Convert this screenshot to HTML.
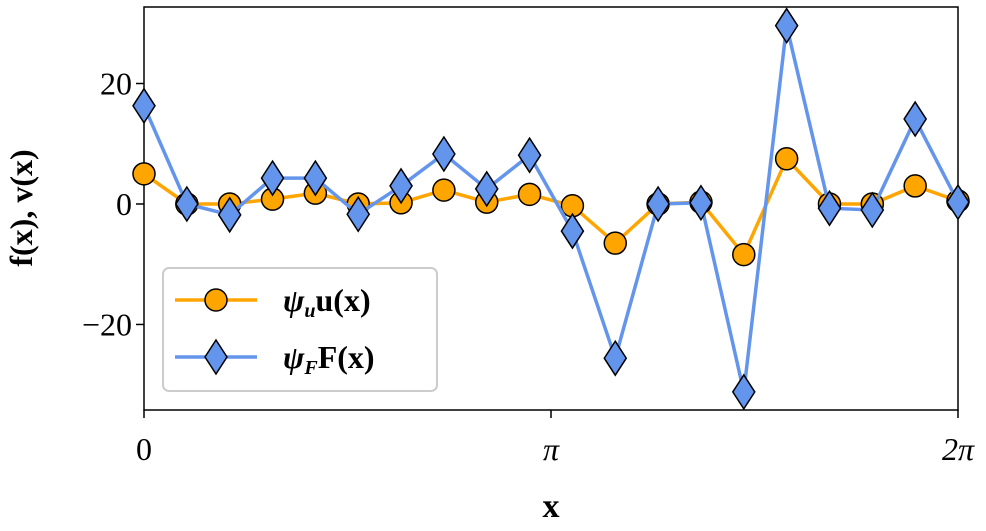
<!DOCTYPE html>
<html><head><meta charset="utf-8"><style>
body{margin:0;background:#fff;}
svg{display:block;font-family:"Liberation Serif",serif;}
</style></head><body>
<svg id="chart" width="986" height="531">
<g id="plot"></g>
</svg>
<script>
const xTickLabels=["0","π","2π"];
const yTicks=[-20,0,20];
const orangeValues=[5.0,0,0,0.8,1.8,0,0.2,2.3,0.3,1.6,-0.3,-6.5,0,0.3,-8.4,7.5,0,0,3.0,0.5];
const blueValues=[16.3,0,-1.8,4.3,4.3,-1.7,3.0,8.3,2.5,8.1,-4.5,-25.6,0,0.2,-31.2,29.6,-0.7,-1.0,14.1,0.3];
const X0=144,X1=958,Y0=7,Y1=410;
const ymin=-34.2,ymax=32.7;
const N=orangeValues.length;
const xs=i=>X0+(X1-X0)*i/(N-1);
const ys=v=>Y1-(v-ymin)/(ymax-ymin)*(Y1-Y0);
const NS="http://www.w3.org/2000/svg";
const g=document.getElementById('plot');
function mk(t,a,p){const e=document.createElementNS(NS,t);for(const k in a)e.setAttribute(k,a[k]);(p||g).appendChild(e);return e;}
const fr=mk('rect',{x:X0,y:Y0,width:X1-X0,height:Y1-Y0,fill:'none',stroke:'#000','stroke-width':1.5});


yTicks.forEach(v=>{
 const y=ys(v);
 const t=mk('line',{x1:X0-8,x2:X0,y1:y,y2:y,stroke:'#000','stroke-width':1.5});
 
 
 const l=mk('text',{x:X0-12,y:y+11,'text-anchor':'end','font-size':32});
 l.textContent=v<0?'−'+Math.abs(v):String(v);
 
 
});
xTickLabels.forEach((s,i)=>{
 const x=X0+(X1-X0)*i/2;
 const t=mk('line',{x1:x,x2:x,y1:Y1,y2:Y1+8,stroke:'#000','stroke-width':1.5});
 
 
 const l=mk('text',{x:x,y:Y1+50,'text-anchor':'middle','font-size':32,'font-style':i?'italic':'normal'});
 l.textContent=s;
 
 
});
const xl=mk('text',{x:551,y:517,'text-anchor':'middle','font-size':34,'font-weight':'bold'});
xl.textContent='x';


const yl=mk('text',{x:0,y:0,'text-anchor':'middle','font-size':32,'font-weight':'bold',transform:'translate(32,208) rotate(-90)'});
yl.textContent='f(x), v(x)';


function line(vals,color,name){
 const p=mk('polyline',{points:vals.map((v,i)=>xs(i)+','+ys(v)).join(' '),fill:'none',stroke:color,'stroke-width':3.5});
 
 
}
function diamond(x,y,color){return mk('polygon',{points:`${x},${y-17} ${x+11},${y} ${x},${y+17} ${x-11},${y}`,fill:color,stroke:'#000','stroke-width':1.5});}
line(orangeValues,'#FFA500','orange-line');
orangeValues.forEach((v,i)=>{
 const c=mk('circle',{cx:xs(i),cy:ys(v),r:11,fill:'#FFA500',stroke:'#000','stroke-width':1.5});
 
 
});
line(blueValues,'#6495ED','blue-line');
blueValues.forEach((v,i)=>{
 const d=diamond(xs(i),ys(v),'#6495ED');
 
 
});
const lg=mk('g',{});


mk('rect',{x:163,y:268,width:274,height:123,rx:6,fill:'#fff',stroke:'#ccc','stroke-width':2},lg);
mk('line',{x1:175,x2:257,y1:300,y2:300,stroke:'#FFA500','stroke-width':3.5},lg);
mk('circle',{cx:216,cy:300,r:11,fill:'#FFA500',stroke:'#000','stroke-width':1.5},lg);
const t1=mk('text',{x:283,y:311,'font-size':32,'font-weight':'bold'},lg);
t1.innerHTML='<tspan font-style="italic">ψ</tspan><tspan font-size="20" font-style="italic" dy="6">u</tspan><tspan dy="-6">u(x)</tspan>';


mk('line',{x1:175,x2:257,y1:357,y2:357,stroke:'#6495ED','stroke-width':3.5},lg);
const dd=diamond(216,357,'#6495ED');lg.appendChild(dd);
const t2=mk('text',{x:283,y:368,'font-size':32,'font-weight':'bold'},lg);
t2.innerHTML='<tspan font-style="italic">ψ</tspan><tspan font-size="20" font-style="italic" dy="6">F</tspan><tspan dy="-6">F(x)</tspan>';


</script>
</body></html>
